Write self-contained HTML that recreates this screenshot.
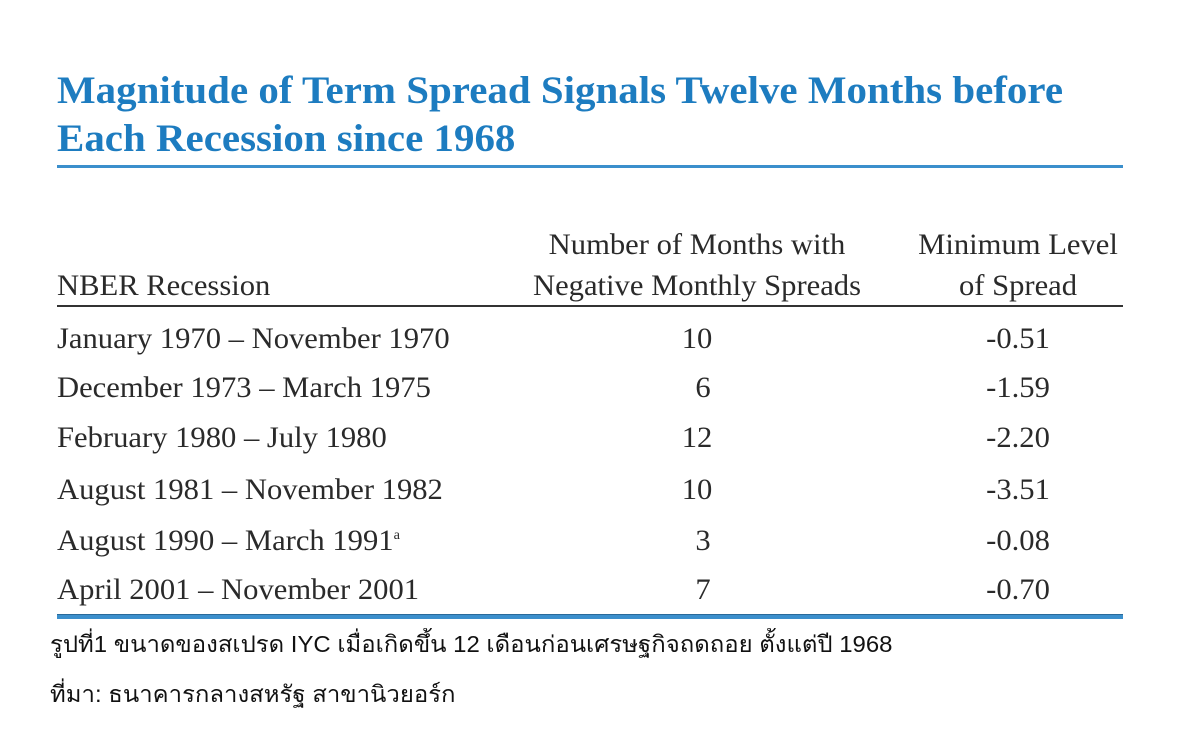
<!DOCTYPE html>
<html><head><meta charset="utf-8"><style>
body{margin:0;width:1200px;height:753px;background:#fff;position:relative;overflow:hidden;font-family:"Liberation Serif",serif;color:#2a2a2a}
.a{position:absolute;white-space:nowrap;transform-origin:left center}
.t{color:#1d7cc0;font-weight:bold;font-size:39px;transform:scaleX(1.05)}
.r{font-size:30px;transform:scaleX(1.02);line-height:1}
.c{position:absolute;white-space:nowrap;font-size:30px;line-height:1;transform:translateX(-50%) scaleX(1.02)}
.th{font-family:"Liberation Sans","DejaVu Sans",sans-serif;font-size:23px;color:#111;transform:scaleX(1.04);line-height:1}
</style></head><body>
<div class="a t" style="left:57px;top:68px">Magnitude of Term Spread Signals Twelve Months before</div>
<div class="a t" style="left:57px;top:116px">Each Recession since 1968</div>
<div style="position:absolute;left:57px;top:165px;width:1066px;height:3px;background:#3b8fcc"></div>

<div class="c" style="left:697px;top:230px">Number of Months with</div>
<div class="c" style="left:697px;top:271px">Negative Monthly Spreads</div>
<div class="c" style="left:1018px;top:230px">Minimum Level</div>
<div class="c" style="left:1018px;top:271px">of Spread</div>
<div class="a r" style="left:57px;top:271px">NBER Recession</div>
<div style="position:absolute;left:57px;top:305px;width:1066px;height:2px;background:#333"></div>

<div class="a r" style="left:57px;top:324px">January 1970 – November 1970</div>
<div class="c" style="left:697px;top:324px">10</div><div class="c" style="left:1018px;top:324px">-0.51</div>
<div class="a r" style="left:57px;top:373px">December 1973 – March 1975</div>
<div class="c" style="left:703px;top:373px">6</div><div class="c" style="left:1018px;top:373px">-1.59</div>
<div class="a r" style="left:57px;top:423px">February 1980 – July 1980</div>
<div class="c" style="left:697px;top:423px">12</div><div class="c" style="left:1018px;top:423px">-2.20</div>
<div class="a r" style="left:57px;top:475px">August 1981 – November 1982</div>
<div class="c" style="left:697px;top:475px">10</div><div class="c" style="left:1018px;top:475px">-3.51</div>
<div class="a r" style="left:57px;top:526px">August 1990 – March 1991<sup style="font-size:14px">a</sup></div>
<div class="c" style="left:703px;top:526px">3</div><div class="c" style="left:1018px;top:526px">-0.08</div>
<div class="a r" style="left:57px;top:575px">April 2001 – November 2001</div>
<div class="c" style="left:703px;top:575px">7</div><div class="c" style="left:1018px;top:575px">-0.70</div>
<div style="position:absolute;left:57px;top:614px;width:1066px;height:4px;background:#3b8fcc;border-top:1px solid #2a6a99"></div>

<div class="a th" style="left:50px;top:633px">รูปที่1 ขนาดของสเปรด IYC เมื่อเกิดขึ้น 12 เดือนก่อนเศรษฐกิจถดถอย ตั้งแต่ปี 1968</div>
<div class="a th" style="left:50px;top:683px">ที่มา: ธนาคารกลางสหรัฐ สาขานิวยอร์ก</div>
</body></html>
